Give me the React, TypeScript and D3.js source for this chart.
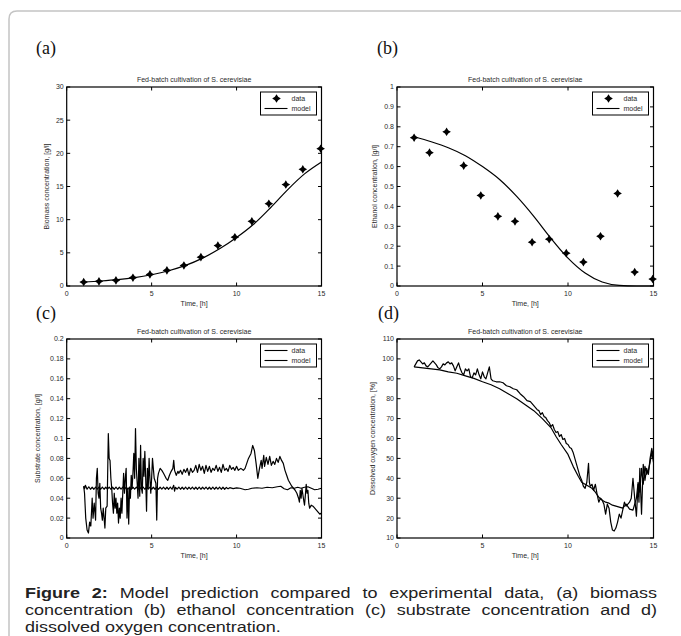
import React, { useLayoutEffect, useRef, useState } from "react";
import * as d3 from "d3";

// ---------- DATA ----------
const xTicks = [0, 5, 10, 15];
const biomassTicks = [0, 5, 10, 15, 20, 25, 30];
const ethanolTicks = [0, 0.1, 0.2, 0.3, 0.4, 0.5, 0.6, 0.7, 0.8, 0.9, 1];
const substrateTicks = [0, 0.02, 0.04, 0.06, 0.08, 0.1, 0.12, 0.14, 0.16, 0.18, 0.2];
const oxygenTicks = [10, 20, 30, 40, 50, 60, 70, 80, 90, 100, 110];

const sampleTimes = [1, 1.9, 2.9, 3.9, 4.9, 5.9, 6.9, 7.9, 8.9, 9.9, 10.9, 11.9, 12.9, 13.9, 14.95];
const biomassData = [0.6, 0.7, 0.85, 1.25, 1.75, 2.35, 3.1, 4.35, 6.1, 7.35, 9.75, 12.4, 15.3, 17.6, 20.7];
const ethanolData = [0.745, 0.67, 0.775, 0.605, 0.455, 0.35, 0.325, 0.22, 0.235, 0.165, 0.12, 0.25, 0.465, 0.07, 0.035];

const modelTimes = [1, 2, 3, 4, 5, 6, 7, 8, 9, 10, 11, 12, 13, 14, 15];
const biomassModel = [0.6, 0.75, 0.95, 1.25, 1.7, 2.3, 3.1, 4.2, 5.6, 7.3, 9.3, 11.8, 14.5, 16.9, 18.7];
const ethanolModel = [0.75, 0.725, 0.695, 0.655, 0.6, 0.535, 0.45, 0.35, 0.24, 0.14, 0.065, 0.02, 0.003, 0, 0];

const substrateData: [number, number][] = [
  [1.0, 0.052], [1.05, 0.045], [1.12, 0.02], [1.2, 0.008], [1.28, 0.005], [1.35, 0.016], [1.42, 0.012],
  [1.5, 0.04], [1.55, 0.02], [1.62, 0.035], [1.7, 0.018], [1.75, 0.06], [1.8, 0.07], [1.85, 0.045],
  [1.9, 0.04], [1.95, 0.055], [2.0, 0.03], [2.05, 0.025], [2.1, 0.018], [2.15, 0.03], [2.2, 0.02],
  [2.25, 0.01], [2.3, 0.03], [2.38, 0.032], [2.45, 0.105], [2.5, 0.08], [2.55, 0.078], [2.6, 0.06],
  [2.65, 0.05], [2.7, 0.035], [2.75, 0.025], [2.8, 0.045], [2.85, 0.03], [2.9, 0.04], [2.95, 0.025],
  [3.0, 0.035], [3.05, 0.015], [3.1, 0.03], [3.15, 0.02], [3.2, 0.04], [3.25, 0.025], [3.3, 0.045],
  [3.35, 0.065], [3.4, 0.045], [3.45, 0.06], [3.5, 0.07], [3.55, 0.02], [3.6, 0.05], [3.65, 0.014],
  [3.7, 0.05], [3.75, 0.04], [3.8, 0.063], [3.85, 0.05], [3.9, 0.065], [3.95, 0.085], [4.0, 0.06],
  [4.05, 0.11], [4.1, 0.07], [4.15, 0.055], [4.2, 0.04], [4.25, 0.08], [4.3, 0.042], [4.35, 0.093],
  [4.4, 0.05], [4.45, 0.045], [4.5, 0.08], [4.55, 0.062], [4.6, 0.087], [4.65, 0.06], [4.7, 0.027],
  [4.75, 0.07], [4.8, 0.05], [4.85, 0.08], [4.9, 0.06], [4.95, 0.045], [5.0, 0.06], [5.05, 0.08],
  [5.1, 0.07], [5.15, 0.06], [5.25, 0.055], [5.3, 0.018], [5.35, 0.06], [5.4, 0.065], [5.5, 0.07],
  [5.6, 0.068], [5.7, 0.065], [5.85, 0.06], [5.95, 0.058], [6.05, 0.063], [6.15, 0.067], [6.25, 0.07],
  [6.3, 0.078], [6.35, 0.068], [6.45, 0.063], [6.55, 0.067], [6.6, 0.065], [6.7, 0.068], [6.8, 0.064],
  [6.9, 0.069], [7.0, 0.066], [7.1, 0.07], [7.2, 0.063], [7.3, 0.07], [7.4, 0.066], [7.5, 0.068],
  [7.6, 0.073], [7.7, 0.066], [7.8, 0.074], [7.9, 0.068], [8.0, 0.072], [8.1, 0.065], [8.2, 0.073],
  [8.3, 0.067], [8.4, 0.072], [8.5, 0.066], [8.6, 0.07], [8.7, 0.068], [8.8, 0.073], [8.9, 0.067],
  [9.0, 0.071], [9.1, 0.066], [9.2, 0.074], [9.3, 0.068], [9.4, 0.07], [9.5, 0.067], [9.6, 0.073],
  [9.7, 0.069], [9.8, 0.071], [9.9, 0.068], [10.0, 0.072], [10.1, 0.068], [10.25, 0.07], [10.4, 0.068],
  [10.5, 0.07], [10.6, 0.075], [10.7, 0.08], [10.85, 0.085], [10.95, 0.093], [11.05, 0.088], [11.15, 0.075],
  [11.25, 0.06], [11.35, 0.07], [11.45, 0.078], [11.5, 0.07], [11.6, 0.083], [11.65, 0.072], [11.75, 0.081],
  [11.85, 0.074], [11.95, 0.082], [12.05, 0.073], [12.15, 0.077], [12.25, 0.074], [12.35, 0.08], [12.45, 0.076],
  [12.55, 0.082], [12.65, 0.078], [12.75, 0.075], [12.85, 0.068], [12.95, 0.063], [13.05, 0.058], [13.15, 0.055],
  [13.25, 0.052], [13.35, 0.05], [13.45, 0.048], [13.55, 0.045], [13.65, 0.04], [13.7, 0.036], [13.75, 0.048],
  [13.8, 0.04], [13.85, 0.05], [13.9, 0.044], [13.95, 0.038], [14.0, 0.033], [14.05, 0.043], [14.1, 0.054],
  [14.15, 0.045], [14.2, 0.048], [14.25, 0.035], [14.3, 0.03], [14.4, 0.033], [14.5, 0.032], [14.6, 0.03],
  [14.7, 0.028], [14.8, 0.026], [14.9, 0.024], [15.0, 0.025],
];

const substrateModel: [number, number][] = [
  [1.0, 0.052], [1.05, 0.0495], [1.1, 0.053], [1.2, 0.049], [1.3, 0.0515], [1.4, 0.049], [1.5, 0.051],
  [1.6, 0.049], [1.7, 0.0512], [1.8, 0.0492], [1.9, 0.051], [2.0, 0.049], [2.1, 0.0512], [2.2, 0.049],
  [2.3, 0.051], [2.4, 0.0492], [2.5, 0.0512], [2.6, 0.049], [2.7, 0.051], [2.8, 0.049], [2.9, 0.0512],
  [3.0, 0.049], [3.1, 0.051], [3.2, 0.0492], [3.3, 0.0512], [3.4, 0.049], [3.5, 0.051], [3.6, 0.049],
  [3.7, 0.0512], [3.8, 0.049], [3.9, 0.051], [4.0, 0.0492], [4.1, 0.0512], [4.2, 0.049], [4.3, 0.051],
  [4.4, 0.049], [4.5, 0.0512], [4.6, 0.049], [4.7, 0.051], [4.8, 0.0492], [4.9, 0.0512], [5.0, 0.049],
  [5.1, 0.051], [5.2, 0.049], [5.3, 0.0512], [5.4, 0.049], [5.5, 0.051], [5.6, 0.0492], [5.7, 0.0512],
  [5.8, 0.049], [5.9, 0.051], [6.0, 0.049], [6.1, 0.0512], [6.2, 0.049], [6.3, 0.053], [6.35, 0.047],
  [6.4, 0.051], [6.5, 0.0492], [6.6, 0.0512], [6.7, 0.049], [6.8, 0.051], [6.9, 0.049], [7.0, 0.0512],
  [7.1, 0.049], [7.2, 0.051], [7.3, 0.0492], [7.4, 0.0512], [7.5, 0.049], [7.6, 0.051], [7.7, 0.049],
  [7.8, 0.0512], [7.9, 0.049], [8.0, 0.051], [8.1, 0.0492], [8.2, 0.0512], [8.3, 0.049], [8.4, 0.051],
  [8.5, 0.049], [8.6, 0.0512], [8.7, 0.049], [8.8, 0.051], [8.9, 0.0492], [9.0, 0.0512], [9.1, 0.049],
  [9.2, 0.051], [9.3, 0.049], [9.4, 0.0508], [9.5, 0.0494], [9.6, 0.0506], [9.8, 0.0496], [10.0, 0.0504],
  [10.2, 0.05], [10.5, 0.0485], [10.7, 0.049], [10.9, 0.05], [11.2, 0.0505], [11.5, 0.05], [11.8, 0.051],
  [12.1, 0.0505], [12.4, 0.0515], [12.6, 0.052], [12.8, 0.0495], [13.0, 0.0485], [13.2, 0.0505], [13.4, 0.05],
  [13.6, 0.051], [13.8, 0.05], [14.0, 0.051], [14.2, 0.0515], [14.4, 0.05], [14.6, 0.0485], [14.8, 0.049],
  [15.0, 0.05],
];

const oxygenData: [number, number][] = [
  [1.0, 96], [1.1, 97.5], [1.2, 99], [1.3, 99.5], [1.4, 98.5], [1.5, 97.5], [1.6, 98], [1.7, 96.5],
  [1.8, 96], [1.9, 97], [2.0, 98], [2.1, 99], [2.2, 98], [2.3, 97], [2.4, 95.5], [2.5, 95], [2.6, 96],
  [2.7, 97.5], [2.8, 97], [2.9, 98], [3.0, 98.5], [3.1, 97.5], [3.2, 98], [3.3, 96.5], [3.4, 94],
  [3.5, 96], [3.6, 98], [3.7, 95], [3.8, 93], [3.9, 92], [4.0, 95], [4.1, 94], [4.2, 95], [4.3, 91],
  [4.4, 90.5], [4.5, 93], [4.6, 92], [4.7, 95], [4.8, 92], [4.9, 90], [5.0, 93.5], [5.1, 91], [5.2, 90],
  [5.3, 93], [5.4, 96], [5.5, 90], [5.6, 89], [5.8, 88.5], [6.0, 88.5], [6.2, 88], [6.4, 86.5], [6.6, 86],
  [6.8, 85], [7.0, 84.5], [7.2, 82.5], [7.4, 81], [7.6, 79], [7.8, 78.5], [8.0, 76.5], [8.2, 74.5],
  [8.3, 74], [8.4, 72], [8.5, 73], [8.6, 71], [8.7, 70.5], [8.8, 69], [8.9, 68], [9.0, 66], [9.1, 67],
  [9.2, 64.5], [9.3, 63], [9.4, 63.5], [9.5, 61], [9.6, 62], [9.7, 59.5], [9.8, 60], [9.9, 57.5],
  [10.0, 57], [10.1, 55.5], [10.2, 55], [10.3, 53], [10.4, 50], [10.5, 47], [10.6, 44], [10.7, 41],
  [10.8, 39], [10.9, 36], [11.0, 35], [11.1, 38], [11.2, 47.5], [11.25, 38], [11.3, 36], [11.4, 37],
  [11.5, 34], [11.6, 37], [11.7, 32], [11.8, 28], [11.9, 30], [12.0, 29], [12.1, 27], [12.2, 22],
  [12.3, 27], [12.4, 25], [12.5, 18], [12.6, 14], [12.7, 13.5], [12.8, 15], [12.9, 18], [13.0, 22],
  [13.1, 20], [13.2, 24], [13.3, 28], [13.4, 26], [13.5, 27], [13.6, 28], [13.7, 30], [13.8, 40],
  [13.9, 30], [14.0, 21], [14.1, 37], [14.15, 28], [14.2, 45], [14.3, 22], [14.4, 47], [14.5, 39],
  [14.6, 45], [14.7, 42], [14.8, 50], [14.9, 55], [15.0, 50],
];

const oxygenModel: [number, number][] = [
  [1.0, 96], [1.5, 95.5], [2.0, 95], [2.5, 94.5], [3.0, 93.5], [3.5, 92.8], [4.0, 91.5], [4.5, 90.2],
  [5.0, 88.5], [5.5, 87], [6.0, 85], [6.5, 82.5], [7.0, 80], [7.5, 77], [8.0, 74], [8.5, 70], [9.0, 65.5],
  [9.3, 61], [9.6, 57], [10.0, 52], [10.3, 46], [10.6, 41], [10.8, 38], [11.0, 37], [11.2, 36], [11.4, 35],
  [11.6, 33], [11.8, 30.5], [12.0, 29], [12.2, 28], [12.4, 27.5], [12.6, 26.5], [12.8, 26], [13.0, 25.5],
  [13.2, 25], [13.4, 27], [13.6, 24.5], [13.8, 24], [14.0, 30], [14.1, 38], [14.2, 33], [14.3, 45],
  [14.4, 37], [14.5, 46], [14.6, 42], [14.7, 44], [14.8, 48], [14.9, 53], [15.0, 48],
];

const chartTitle = "Fed-batch cultivation of S. cerevisiae";
const xLabel = "Time, [h]";
const captionBold = "Figure 2:";
const captionLines = [
  " Model prediction compared to experimental data, (a) biomass",
  "concentration (b) ethanol concentration (c) substrate concentration and d)",
  "dissolved oxygen concentration.",
];

// ---------- RENDERING ----------
const SANS = "'Liberation Sans', Arial, Helvetica, sans-serif";
const SERIF = "'Liberation Serif', 'Times New Roman', serif";
const TXT = "#2a2a2a";
const CAP_SIZE = 15;
const CAP_SX = 1.2;

function starPath(cx: number, cy: number) {
  const pts: string[] = [];
  for (let i = 0; i < 8; i++) {
    const a = (Math.PI / 4) * i - Math.PI / 2;
    const r = i % 2 === 0 ? 4.3 : 2.3;
    pts.push(`${cx + r * Math.cos(a)},${cy + r * Math.sin(a)}`);
  }
  return "M" + pts.join("L") + "Z";
}

type Line = { pts: [number, number][]; smooth?: boolean; width?: number };

type PanelProps = {
  left: number; right: number; top: number; bottom: number;
  yDomain: [number, number]; yTicks: number[]; yLabel: string; yLabelX: number;
  letter: string; letterX: number; letterY: number;
  markers?: [number, number][];
  lines: Line[];
  legendMarker: boolean;
};

function fmt(v: number) {
  return String(Math.round(v * 1000) / 1000);
}

function Panel(p: PanelProps) {
  const x = d3.scaleLinear().domain([0, 15]).range([p.left, p.right]);
  const y = d3.scaleLinear().domain(p.yDomain).range([p.bottom, p.top]);
  const tl = 3.5;
  const cx = (p.left + p.right) / 2;
  const cy = (p.top + p.bottom) / 2;
  const lgW = 56, lgH = 23;
  const lgX = p.right - 5 - lgW;
  const lgY = p.top + 5;
  return (
    <g>
      <text x={p.letterX} y={p.letterY} fontFamily={SERIF} fontSize={18} fill="#111">{p.letter}</text>
      <text x={cx} y={p.top - 5} textAnchor="middle" fontFamily={SANS} fontSize={7} fill={TXT}>{chartTitle}</text>
      {p.lines.map((ln, i) => {
        const gen = d3.line<[number, number]>()
          .x((d) => x(d[0]))
          .y((d) => y(d[1]))
          .curve(ln.smooth ? d3.curveMonotoneX : d3.curveLinear);
        return <path key={i} d={gen(ln.pts) || ""} fill="none" stroke="#000" strokeWidth={ln.width ?? 1.1} strokeLinejoin="round" />;
      })}
      {p.markers && p.markers.map((m, i) => (
        <path key={"m" + i} d={starPath(x(m[0]), y(m[1]))} fill="#000" />
      ))}
      <rect x={p.left} y={p.top} width={p.right - p.left} height={p.bottom - p.top} fill="none" stroke="#000" strokeWidth={1.2} />
      {xTicks.map((t) => (
        <g key={"x" + t}>
          <line x1={x(t)} x2={x(t)} y1={p.bottom} y2={p.bottom - tl} stroke="#000" strokeWidth={1} />
          <line x1={x(t)} x2={x(t)} y1={p.top} y2={p.top + tl} stroke="#000" strokeWidth={1} />
          <text x={x(t)} y={p.bottom + 10} textAnchor="middle" fontFamily={SANS} fontSize={7} fill={TXT}>{fmt(t)}</text>
        </g>
      ))}
      {p.yTicks.map((t) => (
        <g key={"y" + t}>
          <line x1={p.left} x2={p.left + tl} y1={y(t)} y2={y(t)} stroke="#000" strokeWidth={1} />
          <line x1={p.right} x2={p.right - tl} y1={y(t)} y2={y(t)} stroke="#000" strokeWidth={1} />
          <text x={p.left - 3} y={y(t)} dy="0.35em" textAnchor="end" fontFamily={SANS} fontSize={7} fill={TXT}>{fmt(t)}</text>
        </g>
      ))}
      <text x={cx} y={p.bottom + 20} textAnchor="middle" fontFamily={SANS} fontSize={7} fill={TXT}>{xLabel}</text>
      <text transform={`translate(${p.yLabelX},${cy}) rotate(-90)`} textAnchor="middle" dy="0.35em" fontFamily={SANS} fontSize={7} fill={TXT}>{p.yLabel}</text>
      <rect x={lgX} y={lgY} width={lgW} height={lgH} fill="#fff" stroke="#000" strokeWidth={1} />
      {p.legendMarker ? (
        <path d={starPath(lgX + 16, lgY + 6.5)} fill="#000" />
      ) : (
        <line x1={lgX + 4} x2={lgX + 27} y1={lgY + 6.5} y2={lgY + 6.5} stroke="#000" strokeWidth={1.1} />
      )}
      <line x1={lgX + 4} x2={lgX + 27} y1={lgY + 16.5} y2={lgY + 16.5} stroke="#000" strokeWidth={1.1} />
      <text x={lgX + 31} y={lgY + 6.5} dy="0.35em" fontFamily={SANS} fontSize={7} fill={TXT}>data</text>
      <text x={lgX + 31} y={lgY + 16.5} dy="0.35em" fontFamily={SANS} fontSize={7} fill={TXT}>model</text>
    </g>
  );
}

// caption line; justified lines spread their words (not letters) to fill the width
function CaptionLine({ y, width, children, spaces }: { y: number; width?: number; children: React.ReactNode; spaces: number }) {
  const ref = useRef<SVGTextElement>(null);
  const [ws, setWs] = useState(0);
  useLayoutEffect(() => {
    const el = ref.current;
    if (!el || !width) return;
    el.style.wordSpacing = "0px";
    const natural = el.getComputedTextLength();
    const extra = (width / CAP_SX - natural) / Math.max(1, spaces);
    setWs(extra > 0 ? extra : 0);
  }, [width, spaces]);
  return (
    <g transform={`translate(25,${y}) scale(${CAP_SX},1)`}>
      <text ref={ref} x={0} y={0} fontFamily={SANS} fontSize={CAP_SIZE} fill="#222" style={{ wordSpacing: `${ws}px` }}>
        {children}
      </text>
    </g>
  );
}

const countSpaces = (s: string) => (s.match(/ /g) || []).length;

export default function App() {
  const zip = (t: number[], v: number[]) => t.map((tt, i) => [tt, v[i]] as [number, number]);
  return (
    <div style={{ position: "absolute", left: 0, top: 0 }}>
      <svg width={681} height={636} viewBox="0 0 681 636" style={{ display: "block", background: "#fff" }}>
        <path d="M9 636 L9 19 Q9 11 17 11 L681 11" fill="none" stroke="#c4c4c4" strokeWidth={1.5} />
        <Panel left={66.7} right={321.5} top={87} bottom={286} yDomain={[0, 30]} yTicks={biomassTicks}
          yLabel="Biomass concentration, [g/l]" yLabelX={47} letter="(a)" letterX={36} letterY={54}
          markers={zip(sampleTimes, biomassData)} lines={[{ pts: zip(modelTimes, biomassModel), smooth: true, width: 1.2 }]}
          legendMarker={true} />
        <Panel left={397} right={653.5} top={87} bottom={286} yDomain={[0, 1]} yTicks={ethanolTicks}
          yLabel="Ethanol concentration, [g/l]" yLabelX={375} letter="(b)" letterX={377} letterY={54}
          markers={zip(sampleTimes, ethanolData)} lines={[{ pts: zip(modelTimes, ethanolModel), smooth: true, width: 1.2 }]}
          legendMarker={true} />
        <Panel left={66.7} right={321.5} top={339} bottom={538} yDomain={[0, 0.2]} yTicks={substrateTicks}
          yLabel="Substrate concentration, [g/l]" yLabelX={38} letter="(c)" letterX={36} letterY={319}
          lines={[{ pts: substrateData, width: 1.2 }, { pts: substrateModel, width: 1.2 }]}
          legendMarker={false} />
        <Panel left={397} right={653.5} top={339} bottom={538} yDomain={[10, 110]} yTicks={oxygenTicks}
          yLabel="Dissolved oxygen concentration, [%]" yLabelX={373} letter="(d)" letterX={378} letterY={319}
          lines={[{ pts: oxygenData, width: 1.2 }, { pts: oxygenModel, width: 1.2 }]}
          legendMarker={false} />
        <CaptionLine y={598} width={632} spaces={countSpaces(captionBold + captionLines[0])}>
          <tspan fontWeight="bold">{captionBold}</tspan>
          <tspan>{captionLines[0]}</tspan>
        </CaptionLine>
        <CaptionLine y={615} width={632} spaces={countSpaces(captionLines[1])}>
          {captionLines[1]}
        </CaptionLine>
        <CaptionLine y={632} spaces={0}>{captionLines[2]}</CaptionLine>
      </svg>
    </div>
  );
}
